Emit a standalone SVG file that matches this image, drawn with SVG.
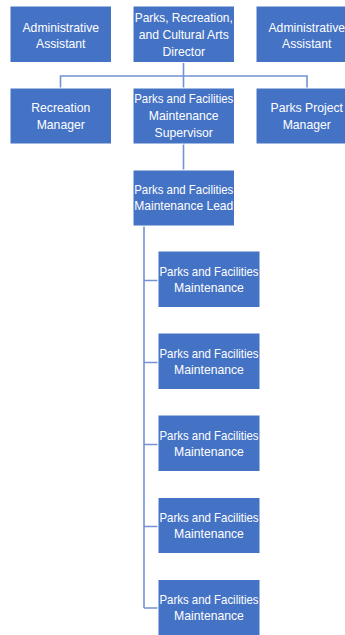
<svg xmlns="http://www.w3.org/2000/svg" width="345" height="635" viewBox="0 0 345 635">
  <style>
    .box { fill: #4472C4; stroke: #FFFFFF; stroke-width: 1; }
    .lbl { fill: #FFFFFF; font-family: "Liberation Sans", "Open Sans", Arial, sans-serif; font-size: 12.2px; text-anchor: middle; }
    .wire { fill: none; stroke: #7393D2; stroke-width: 1.6; }
  </style>
  <rect width="345" height="635" fill="#FFFFFF"/>

  <!-- connectors -->
  <g id="connectors">
    <path class="wire" d="M183.5 62 V76 M60.5 88 V76 H307 V88 M183.5 76 V88"/>
    <path class="wire" d="M183.5 144 V170"/>
    <path class="wire" d="M144 226 V608"/>
    <path class="wire" d="M144 280.5 H158 M144 362.5 H158 M144 444.5 H158 M144 526.5 H158 M144 608 H158"/>
  </g>

  <g id="admin-left">
    <rect class="box" x="10" y="6" width="101.5" height="56.5"/>
    <text class="lbl" x="60.75" y="31.5">Administrative</text>
    <text class="lbl" x="60.75" y="47.5">Assistant</text>
  </g>
  <g id="director">
    <rect class="box" x="133" y="6" width="101.5" height="56.5"/>
    <text class="lbl" x="183.75" y="22" textLength="98" lengthAdjust="spacingAndGlyphs">Parks, Recreation,</text>
    <text class="lbl" x="183.75" y="39">and Cultural Arts</text>
    <text class="lbl" x="183.75" y="55.5">Director</text>
  </g>
  <g id="admin-right">
    <rect class="box" x="256" y="6" width="101.5" height="56.5"/>
    <text class="lbl" x="306.75" y="31.5">Administrative</text>
    <text class="lbl" x="306.75" y="47.5">Assistant</text>
  </g>

  <g id="recreation-manager">
    <rect class="box" x="10" y="88" width="101.5" height="56"/>
    <text class="lbl" x="60.75" y="112">Recreation</text>
    <text class="lbl" x="60.75" y="129">Manager</text>
  </g>
  <g id="maintenance-supervisor">
    <rect class="box" x="133" y="88" width="101.5" height="56"/>
    <text class="lbl" x="183.75" y="103" textLength="99" lengthAdjust="spacingAndGlyphs">Parks and Facilities</text>
    <text class="lbl" x="183.75" y="120">Maintenance</text>
    <text class="lbl" x="183.75" y="137">Supervisor</text>
  </g>
  <g id="project-manager">
    <rect class="box" x="256" y="88" width="101.5" height="56"/>
    <text class="lbl" x="306.75" y="112">Parks Project</text>
    <text class="lbl" x="306.75" y="129">Manager</text>
  </g>

  <g id="maintenance-lead">
    <rect class="box" x="133" y="170" width="101.5" height="56"/>
    <text class="lbl" x="183.75" y="194" textLength="99" lengthAdjust="spacingAndGlyphs">Parks and Facilities</text>
    <text class="lbl" x="183.75" y="210" textLength="99" lengthAdjust="spacingAndGlyphs">Maintenance Lead</text>
  </g>

  <g id="maintenance-1">
    <rect class="box" x="158" y="251" width="102" height="56.5"/>
    <text class="lbl" x="209" y="275.5" textLength="99" lengthAdjust="spacingAndGlyphs">Parks and Facilities</text>
    <text class="lbl" x="209" y="291.5">Maintenance</text>
  </g>
  <g id="maintenance-2">
    <rect class="box" x="158" y="333" width="102" height="56.5"/>
    <text class="lbl" x="209" y="357.5" textLength="99" lengthAdjust="spacingAndGlyphs">Parks and Facilities</text>
    <text class="lbl" x="209" y="373.5">Maintenance</text>
  </g>
  <g id="maintenance-3">
    <rect class="box" x="158" y="415" width="102" height="56.5"/>
    <text class="lbl" x="209" y="439.5" textLength="99" lengthAdjust="spacingAndGlyphs">Parks and Facilities</text>
    <text class="lbl" x="209" y="455.5">Maintenance</text>
  </g>
  <g id="maintenance-4">
    <rect class="box" x="158" y="497.5" width="102" height="56"/>
    <text class="lbl" x="209" y="521.5" textLength="99" lengthAdjust="spacingAndGlyphs">Parks and Facilities</text>
    <text class="lbl" x="209" y="537.5">Maintenance</text>
  </g>
  <g id="maintenance-5">
    <rect class="box" x="158" y="579.5" width="102" height="56"/>
    <text class="lbl" x="209" y="603.5" textLength="99" lengthAdjust="spacingAndGlyphs">Parks and Facilities</text>
    <text class="lbl" x="209" y="619.5">Maintenance</text>
  </g>
</svg>
